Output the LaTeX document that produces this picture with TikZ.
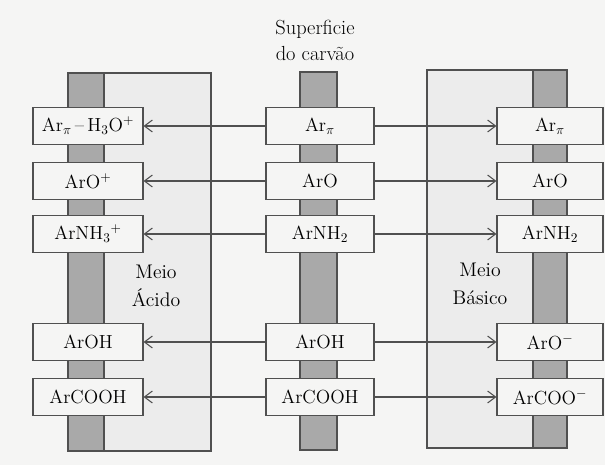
\documentclass[tikz,border=0pt]{standalone}
\usetikzlibrary{arrows.meta}
\definecolor{paper}{HTML}{F5F5F4}
\definecolor{medium}{HTML}{ECECEC}
\definecolor{surface}{HTML}{A9A9A9}
\definecolor{ink}{HTML}{505050}
\tikzset{
    species/.style={draw=ink, fill=paper, minimum height=27.75pt, inner sep=0pt,
        font=\fontsize{14.2}{16}\selectfont},
    exchange/.style={ink, -{Straight Barb[length=6pt, width=9pt]}},
}
\begin{document}
\begin{tikzpicture}[x=0.75pt, y=-0.75pt, thick]
                    \useasboundingbox[fill=paper] (0,0) rectangle (605,465);
                    % meios e superficies do carvao
                    \draw[ink, fill=medium] (68,73) rectangle (211,451);
                    \draw[ink, fill=surface] (68,73) rectangle (104,451);
                    \draw[ink, fill=surface] (300,72) rectangle (337,450);
                    \draw[ink, fill=medium] (427,70) rectangle (567,448);
                    \draw[ink, fill=surface] (533,70) rectangle (567,448);
                    \node[align=center, font=\fontsize{15.3}{19.5}\selectfont] (title) at (315,40) {Superficie\\do carvão};
                    \node[align=center, font=\fontsize{14.8}{21}\selectfont] (acido) at (156,286) {Meio\\Ácido};
                    \node[align=center, font=\fontsize{14.8}{21}\selectfont] (basico) at (480,284) {Meio\\Básico};
                    % especies
                    \foreach \row/\ypos/\acid/\surf/\base in {
                        1/126/{Ar$_\pi$\,--\,H$_3$O$^+$}/{Ar$_\pi$}/{Ar$_\pi$},
                        2/181/{ArO$^+$}/{ArO}/{ArO},
                        3/234/{ArNH$_3$$^+$}/{ArNH$_2$}/{ArNH$_2$},
                        4/342/{ArOH}/{ArOH}/{ArO$^-$},
                        5/397/{ArCOOH}/{ArCOOH}/{ArCOO$^-$}} {
                        \node[species, minimum width=82.5pt] (a\row) at (88,\ypos) {\acid};
                        \node[species, minimum width=81pt] (s\row) at (320,\ypos) {\surf};
                        \node[species, minimum width=79.5pt] (b\row) at (550,\ypos) {\base};
                        \draw[exchange] (s\row) -- (a\row);
                        \draw[exchange] (s\row) -- (b\row);
                    }
                \end{tikzpicture}
\end{document}
